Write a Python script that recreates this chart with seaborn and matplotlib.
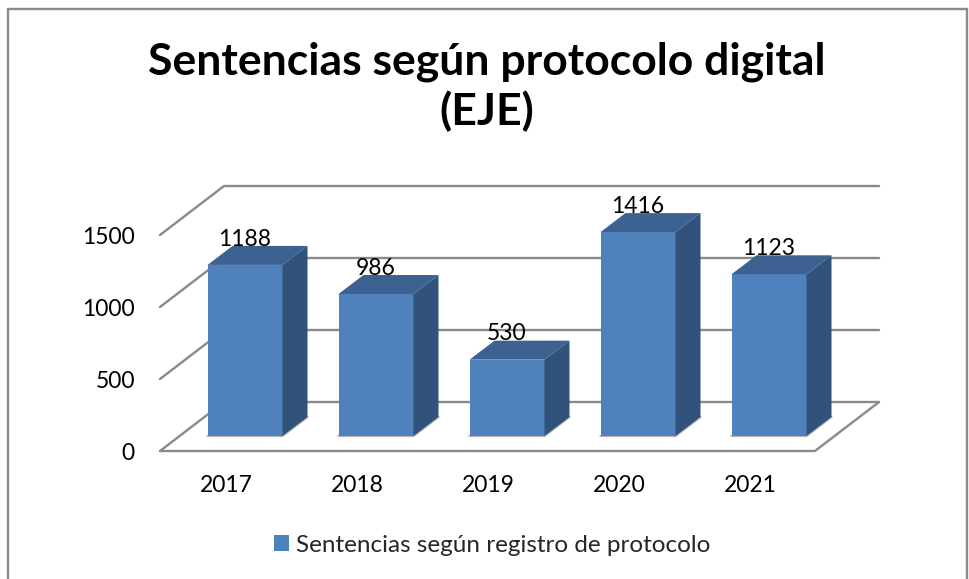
import matplotlib.pyplot as plt
import numpy as np
import seaborn as sns
from matplotlib.patches import Polygon, Rectangle

YEARS = ["2017", "2018", "2019", "2020", "2021"]
VALUES = [1188, 986, 530, 1416, 1123]
Y_TICKS = [0, 500, 1000, 1500]
TITLE = "Sentencias según protocolo digital\n(EJE)"
SERIES = "Sentencias según registro de protocolo"

FRONT = "#4F81BD"
TOP = "#3D6291"
SIDE = "#31537B"
GRID = "#8A8A8A"

W, H = 969, 579

sns.set_style("white")
plt.rcParams["font.family"] = ["Lato", "DejaVu Sans"]

# px to data: one category is 131 px, 1500 is 216 px
PX_X = 1 / 131
PX_Y = 1500 / 216

fig = plt.figure(figsize=(W / 100, H / 100), dpi=100, facecolor="white")
ax = fig.add_axes([160 / W, (H - 451) / H, (879 - 160) / W, (451 - 186) / H])
ax.patch.set_alpha(0)

sns.barplot(
    x=YEARS,
    y=VALUES,
    color=FRONT,
    saturation=1,
    width=75 / 131,
    linewidth=0,
    ax=ax,
    zorder=3,
)

# floor corners sit 19,15 px in front of the bars and 45,34 px behind them
left_f = -85 * PX_X
right_f = 570 * PX_X
left_b = -21 * PX_X
right_b = 634 * PX_X
drop = -15 * PX_Y
rise = 34 * PX_Y

ax.set_xlim(left_f, right_b)
ax.set_ylim(drop, 1500 + rise)

line = dict(color=GRID, lw=1.7, clip_on=False, solid_capstyle="round", zorder=1)
for t in Y_TICKS:
    ax.plot([left_f, left_b, right_b], [t + drop, t + rise, t + rise], **line)
ax.plot([left_f, right_f, right_b], [drop, drop, rise], **line)

# depth faces of each bar
dx = 25 * PX_X
dy = 19 * PX_Y
for bar in ax.containers[0]:
    x0 = bar.get_x()
    x1 = x0 + bar.get_width()
    v = bar.get_height()
    ax.plot([x0, x1, x1 + dx], [0, 0, dy], color="#B4B4B4", lw=1.6, zorder=2)
    ax.add_patch(Polygon([(x0, v), (x1, v), (x1 + dx, v + dy), (x0 + dx, v + dy)],
                         fc=TOP, lw=0, zorder=3, clip_on=False))
    ax.add_patch(Polygon([(x1, 0), (x1 + dx, dy), (x1 + dx, v + dy), (x1, v)],
                         fc=SIDE, lw=0, zorder=3, clip_on=False))

ax.bar_label(ax.containers[0], labels=[str(v) for v in VALUES], padding=11,
             fontsize=16.5, color="black", zorder=5)

ax.set_xticks(np.arange(len(YEARS)) - 19 * PX_X, YEARS)
ax.set_yticks(np.array(Y_TICKS) + drop, [str(t) for t in Y_TICKS])
ax.tick_params(axis="x", length=0, pad=17, labelsize=16.5, labelcolor="black")
ax.tick_params(axis="y", length=0, pad=18, labelsize=16.5, labelcolor="black")
ax.set(xlabel="", ylabel="")
sns.despine(ax=ax, left=True, bottom=True)

fig.text(487 / W, 1 - 87 / H, TITLE, ha="center", va="center", fontsize=32,
         fontweight="bold", color="black", linespacing=1.25)

fig.legend(
    handles=ax.containers[0].patches[:1],
    labels=[SERIES],
    loc="center",
    bbox_to_anchor=(492 / W, 1 - 545 / H),
    frameon=False,
    fontsize=17.5,
    handlelength=0.62,
    handleheight=0.62,
    handletextpad=0.3,
)

fig.add_artist(Rectangle((8 / W, -0.1), (967 - 8) / W, 1.1 - 9 / H, fill=False, ec=GRID,
                         lw=1.7, transform=fig.transFigure))

plt.savefig("out.png", dpi=100, facecolor="white")
